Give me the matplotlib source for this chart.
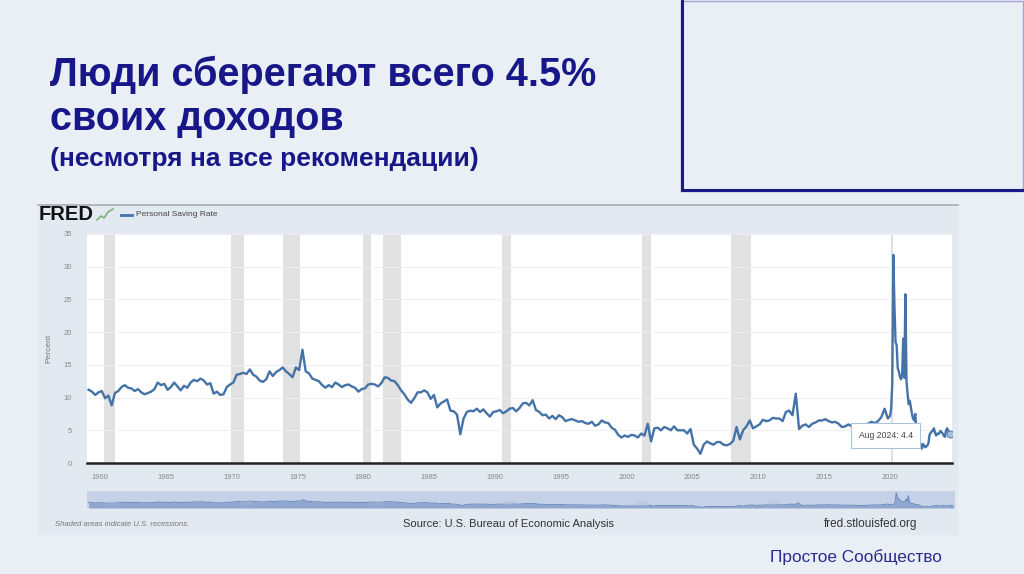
import matplotlib.pyplot as plt
import numpy as np
from matplotlib.patches import Rectangle, Polygon
from matplotlib.lines import Line2D

plt.rcParams['font.family'] = ['Liberation Sans', 'DejaVu Sans']

# personal saving rate, quarterly from 1959 Q1 to 2019 Q4
START_YEAR = 1959
quarterly_rate = [
    11.2, 10.9, 10.4, 10.8,   # 1959
    11.0, 9.9, 10.3, 8.8,     # 1960
    10.7, 11.0, 11.6, 11.9,   # 1961
    11.5, 11.4, 11.0, 11.3,   # 1962
    10.8, 10.5, 10.7, 10.9,   # 1963
    11.3, 12.3, 11.9, 12.1,   # 1964
    11.2, 11.6, 12.3, 11.7,   # 1965
    11.1, 11.8, 11.5, 12.3,   # 1966
    12.7, 12.5, 12.9, 12.6,   # 1967
    12.0, 12.2, 10.6, 10.9,   # 1968
    10.4, 10.5, 11.6, 12.0,   # 1969
    12.3, 13.5, 13.6, 13.8,   # 1970
    13.6, 14.3, 13.5, 13.2,   # 1971
    12.6, 12.4, 12.8, 14.0,   # 1972
    13.3, 13.9, 14.2, 14.6,   # 1973
    14.0, 13.6, 13.1, 14.6,   # 1974
    14.2, 17.3, 14.0, 13.7,   # 1975
    12.9, 12.7, 12.5, 11.9,   # 1976
    11.5, 11.9, 11.6, 12.3,   # 1977
    12.0, 11.6, 11.9, 12.0,   # 1978
    11.7, 11.5, 10.9, 11.3,   # 1979
    11.4, 12.0, 12.1, 12.0,   # 1980
    11.7, 12.2, 13.1, 13.0,   # 1981
    12.6, 12.5, 11.9, 11.1,   # 1982
    10.5, 9.7, 9.2, 9.9,      # 1983
    10.8, 10.8, 11.1, 10.8,   # 1984
    9.8, 10.4, 8.5, 9.1,      # 1985
    9.4, 9.7, 8.0, 7.9,       # 1986
    7.4, 4.4, 6.8, 7.8,       # 1987
    8.0, 7.9, 8.3, 7.8,       # 1988
    8.2, 7.6, 7.1, 7.8,       # 1989
    7.9, 8.1, 7.6, 7.9,       # 1990
    8.3, 8.4, 7.9, 8.4,       # 1991
    9.1, 9.2, 8.8, 9.6,       # 1992
    8.1, 7.8, 7.3, 7.4,       # 1993
    6.8, 7.2, 6.7, 7.3,       # 1994
    7.0, 6.4, 6.6, 6.7,       # 1995
    6.5, 6.3, 6.4, 6.1,       # 1996
    6.0, 6.3, 5.7, 5.9,       # 1997
    6.5, 6.2, 6.1, 5.4,       # 1998
    5.1, 4.3, 3.9, 4.2,       # 1999
    4.0, 4.3, 4.2, 3.9,       # 2000
    4.5, 4.2, 6.0, 3.3,       # 2001
    5.3, 5.4, 5.0, 5.5,       # 2002
    5.3, 5.0, 5.6, 5.0,       # 2003
    5.0, 5.0, 4.5, 5.2,       # 2004
    2.8, 2.2, 1.4, 2.8,       # 2005
    3.3, 3.0, 2.8, 3.2,       # 2006
    3.2, 2.8, 2.7, 2.9,       # 2007
    3.4, 5.5, 3.6, 5.0,       # 2008
    5.6, 6.5, 5.3, 5.6,       # 2009
    5.9, 6.6, 6.4, 6.5,       # 2010
    6.9, 6.8, 6.8, 6.4,       # 2011
    7.8, 8.0, 7.3, 10.6,      # 2012
    5.2, 5.7, 5.9, 5.5,       # 2013
    6.0, 6.2, 6.5, 6.5,       # 2014
    6.7, 6.4, 6.2, 6.3,       # 2015
    6.0, 5.5, 5.6, 5.9,       # 2016
    5.6, 5.4, 5.2, 5.1,       # 2017
    5.9, 6.0, 6.3, 6.1,       # 2018
    6.4, 7.0, 8.3, 6.8,       # 2019
]

# monthly from Jan 2020 to Aug 2024
monthly_rate = [
    7.2, 8.3, 12.0, 31.8, 24.0, 18.5, 18.0, 14.5, 14.0, 13.2, 12.8, 13.5,   # 2020
    19.0, 13.0, 25.8, 12.5, 10.5, 9.0, 9.5, 8.5, 7.5, 6.8, 6.5, 7.5,       # 2021
    5.0, 4.5, 4.0, 3.2, 2.8, 2.2, 2.9, 2.7, 2.4, 2.5, 2.7, 3.0,            # 2022
    4.3, 4.6, 4.8, 5.0, 5.3, 4.6, 4.2, 4.5, 4.4, 4.6, 4.9, 4.7,            # 2023
    4.5, 4.2, 4.0, 4.9, 5.3, 5.0, 4.6, 4.4,                                # 2024
]

recessions = [(1960.3, 1961.1), (1969.95, 1970.9), (1973.9, 1975.2),
              (1980.0, 1980.55), (1981.5, 1982.9), (1990.55, 1991.2),
              (2001.2, 2001.9), (2007.95, 2009.5), (2020.1, 2020.3)]

y_ticks = [0, 5, 10, 15, 20, 25, 30, 35]
x_ticks = [1960, 1965, 1970, 1975, 1980, 1985, 1990, 1995, 2000, 2005, 2010, 2015, 2020]

q_dates = START_YEAR + (np.arange(len(quarterly_rate)) + 0.5) / 4
m_dates = 2020 + (np.arange(len(monthly_rate)) + 0.5) / 12
dates = np.concatenate([q_dates, m_dates])
rate = np.array(quarterly_rate + monthly_rate)

W, H = 1024, 574
def fx(px): return px / W
def fy(py): return 1 - py / H

fig = plt.figure(figsize=(10.24, 5.74), dpi=100)
fig.patch.set_facecolor('#e9eff4')

# slide title
navy = '#17178a'
fig.text(fx(50), fy(86), 'Люди сберегают всего 4.5%', fontsize=28.5, weight='bold', color=navy, va='baseline')
fig.text(fx(50), fy(130), 'своих доходов', fontsize=28.5, weight='bold', color=navy, va='baseline')
fig.text(fx(50), fy(166), '(несмотря на все рекомендации)', fontsize=19, weight='bold', color=navy, va='baseline')

# empty box top right
fig.add_artist(Rectangle((fx(681), fy(191)), fx(342), 190 / H, transform=fig.transFigure,
                         facecolor='#e9eff4', edgecolor='#a4a4d6', lw=1))
fig.add_artist(Line2D([fx(682), fx(682)], [fy(190), fy(0)], color='#1a1a8a', lw=2.2))
fig.add_artist(Line2D([fx(682), fx(1024)], [fy(190), fy(190)], color='#1a1a8a', lw=2.2))

fig.text(fx(770), fy(557), 'Простое Сообщество', fontsize=12.4, color='#2b2b8f', va='center')

# FRED panel
fig.add_artist(Rectangle((fx(38), fy(535)), fx(920), 330 / H, transform=fig.transFigure,
                         facecolor='#e2e9f0', edgecolor='none', zorder=0))
fig.add_artist(Line2D([fx(38), fx(958)], [fy(205), fy(205)], color='#a8adb3', lw=1.2))

fig.text(fx(39), fy(215), 'FRED', fontsize=14.5, weight='bold', color='#111111', va='center')
fig.add_artist(Line2D([fx(97), fx(101), fx(104), fx(108), fx(113)],
                      [fy(220), fy(216), fy(218), fy(212), fy(209)], color='#7fb07a', lw=1.2))
fig.add_artist(Line2D([fx(121), fx(132)], [fy(215), fy(215)], color='#4572a7', lw=2))
fig.text(fx(136), fy(215), 'Personal Saving Rate', fontsize=6, color='#444444', va='center')

ax = fig.add_axes([fx(87), fy(463), fx(952) - fx(87), (463 - 234) / H])
ax.set_facecolor('white')
for s, e in recessions:
    ax.axvspan(s, e, color='#e1e1e1', lw=0, zorder=0)
ax.set_yticks(y_ticks)
ax.set_xticks(x_ticks)
ax.grid(axis='y', color='#efefef', lw=0.8, zorder=0)
ax.plot(dates, rate, color='#4572a7', lw=1.7, zorder=3)
ax.plot(dates[-1], rate[-1], 'o', ms=5, mfc='#a9c2e2', mec='#5b84b8', mew=0.8, zorder=4)
ax.set_xlim(1959, 2024.75)
ax.set_ylim(0, 35)
for side in ['top', 'left', 'right']:
    ax.spines[side].set_visible(False)
ax.spines['bottom'].set_color('#222222')
ax.spines['bottom'].set_linewidth(1.8)
ax.tick_params(length=0, labelsize=5.5, colors='#888888')
ax.tick_params(axis='x', pad=8)
ax.tick_params(axis='y', pad=11)
ax.set_ylabel('Percent', fontsize=6, color='#777777', labelpad=8)

# hover tooltip
ax.text(2019.7, 4.2, 'Aug 2024: 4.4', fontsize=6.2, color='#444444', ha='center', va='center', zorder=6,
        bbox=dict(boxstyle='square,pad=0.9', facecolor='white', edgecolor='#a9c2e2', lw=0.8))

# navigator strip
nav = fig.add_axes([fx(87), fy(508), fx(955) - fx(87), 17 / H])
nav.set_facecolor('#c4d1e6')
nav.fill_between(dates, rate, color='#8fa7cf', lw=0)
nav.plot(dates, rate, color='#6384b8', lw=0.6)
nav.set_xlim(1959, 2024.75)
nav.set_ylim(0, 35)
for year in [1960, 1970, 1980, 1990, 2000, 2010]:
    nav.text(year + 1, 10, str(year), fontsize=4.5, color='#aebbd2', ha='center', va='center')
nav.set_xticks([])
nav.set_yticks([])
for sp in nav.spines.values():
    sp.set_visible(False)

fig.text(fx(55), fy(524), 'Shaded areas indicate U.S. recessions.', fontsize=5.5, style='italic',
         color='#777777', va='center')
fig.text(fx(403), fy(524), 'Source: U.S. Bureau of Economic Analysis', fontsize=8.0, color='#333333', va='center')
fig.text(fx(824), fy(524), 'fred.stlouisfed.org', fontsize=8.5, color='#333333', va='center')

fig.savefig('out.png', dpi=100, facecolor=fig.get_facecolor())
